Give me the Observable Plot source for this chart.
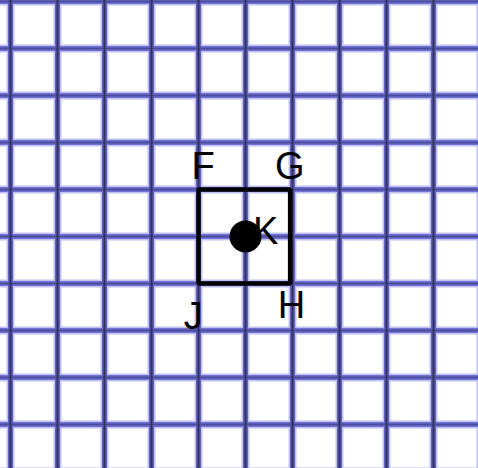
<!DOCTYPE html>
<html>
<head>
<meta charset="utf-8">
<script src="https://cdn.jsdelivr.net/npm/d3@7"></script>
<script src="https://cdn.jsdelivr.net/npm/@observablehq/plot@0.6"></script>
<style>
  html, body { margin: 0; padding: 0; background: #fff; }
</style>
</head>
<body>
<div id="chart"></div>
<script>
// grid lines (grid units)
const gridX = [0, 1, 2, 3, 4, 5, 6, 7, 8, 9, 10];
const gridY = [0, 1, 2, 3, 4, 5, 6, 7, 8, 9, 10];
// square vertices F, G, H, J
const squareNames = ["F", "G", "H", "J"];
const squareX = [4, 5.95, 5.95, 4];
const squareY = [6, 6, 4, 4];
// point K
const pointName = ["K"];
const pointX = [5];
const pointY = [5];
// label positions
const labelText = ["F", "G", "H", "J", "K"];
const labelX = [4.10, 5.94, 5.98, 3.89, 5.43];
const labelY = [6.49, 6.49, 3.53, 3.30, 5.11];

const square = squareNames.map((n, i) => ({name: n, x: squareX[i], y: squareY[i]}));
const squareClosed = [...square, square[0]];
const points = pointName.map((n, i) => ({name: n, x: pointX[i], y: pointY[i]}));
const labels = labelText.map((t, i) => ({t, x: labelX[i], y: labelY[i]}));

const chart = Plot.plot({
  width: 478,
  height: 468,
  margin: 0,
  x: {domain: [-10 / 47, 468 / 47], axis: null},
  y: {domain: [10 - 467 / 47, 10 + 1 / 47], axis: null},
  marks: [
    Plot.ruleY(gridY, {stroke: "#c0c0f2", strokeWidth: 8}),
    Plot.ruleX(gridX, {stroke: "#c0c0f2", strokeWidth: 8}),
    Plot.ruleY(gridY, {stroke: "#7272d4", strokeWidth: 5}),
    Plot.ruleX(gridX, {stroke: "#6262bc", strokeWidth: 5}),
    Plot.ruleY(gridY, {stroke: "#4c4c9c", strokeWidth: 2}),
    Plot.ruleX(gridX, {stroke: "#323262", strokeWidth: 2}),
    Plot.line(squareClosed, {x: "x", y: "y", stroke: "black", strokeWidth: 4.5, strokeLinejoin: "miter"}),
    Plot.dot(points, {x: "x", y: "y", r: 16, fill: "black"}),
    Plot.text(labels, {x: "x", y: "y", text: "t", fontSize: 38, fill: "black",
      fontFamily: "Liberation Sans, Arial, sans-serif", textAnchor: "middle", lineAnchor: "middle"})
  ]
});
document.getElementById("chart").appendChild(chart);
</script>
</body>
</html>
